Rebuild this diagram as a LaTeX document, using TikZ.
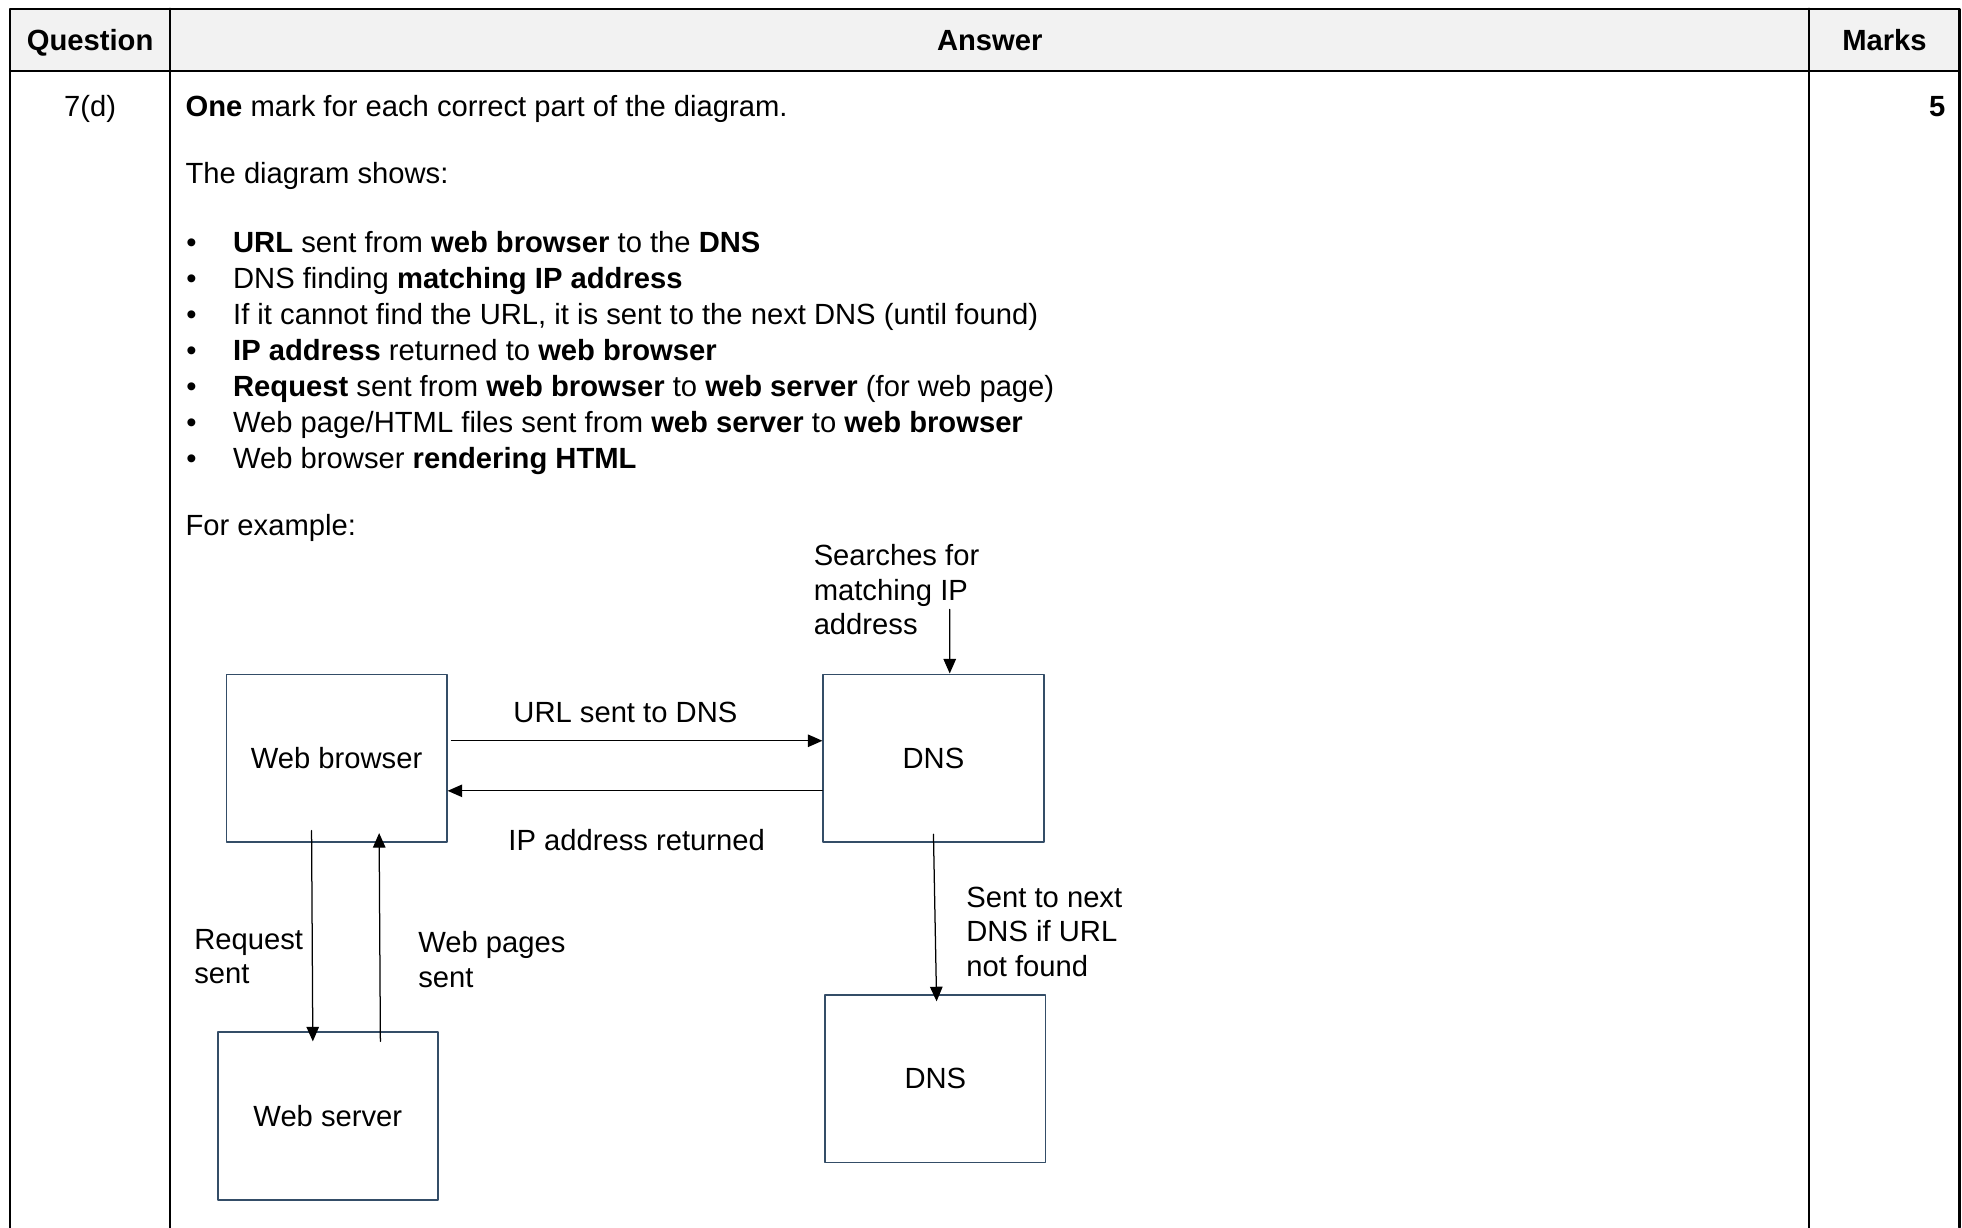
\documentclass[tikz,border=0pt]{standalone}
\usepackage{fontspec}
\setmainfont{Liberation Sans}
\usetikzlibrary{arrows.meta}
\definecolor{boxblue}{RGB}{52,77,103}
\definecolor{headgrey}{RGB}{242,242,242}
\tikzset{
  box/.style={draw=boxblue,line width=0.9pt,minimum width=105.6pt,minimum height=80.4pt,inner sep=0pt},
  txt/.style={anchor=base west},
  lbl/.style={anchor=base west,align=left},
  arr/.style={->,line width=0.6pt},
  tab/.style={line width=1pt}
}
\begin{document}
\begin{tikzpicture}[line cap=round,line join=round,>={Triangle[length=7pt,width=6pt]},x=0.6pt,y=-0.6pt,inner sep=0pt,font=\fontsize{14}{16.5}\selectfont]
\useasboundingbox (0,0) rectangle (1568,981);
% table frame
\fill[headgrey] (8,7) rectangle (1566,57);
\draw[tab] (8,981) -- (8,7) -- (1566,7) -- (1566,981);
\draw[tab] (8,57) -- (1566,57);
\draw[tab] (136,7) -- (136,981);
\draw[tab] (1446,7) -- (1446,981);
\node[anchor=base] (qhead) at (72,40) {\textbf{Question}};
\node[anchor=base] (ahead) at (791,40) {\textbf{Answer}};
\node[anchor=base] (mhead) at (1506,40) {\textbf{Marks}};
\node[anchor=base] (qnum) at (72,93) {7(d)};
\node[anchor=base east] (mark) at (1555,93) {\textbf{5}};
% answer text
\node[txt] (intro) at (148,93) {\textbf{One} mark for each correct part of the diagram.};
\node[txt] (shows) at (148,147) {The diagram shows:};
\node[anchor=base] (dot1) at (153,202) {\textbullet};
\node[anchor=base] (dot2) at (153,230.7) {\textbullet};
\node[anchor=base] (dot3) at (153,259.4) {\textbullet};
\node[anchor=base] (dot4) at (153,288.1) {\textbullet};
\node[anchor=base] (dot5) at (153,316.8) {\textbullet};
\node[anchor=base] (dot6) at (153,345.5) {\textbullet};
\node[anchor=base] (dot7) at (153,374.2) {\textbullet};
\node[txt] (item1) at (186,202) {\textbf{URL} sent from \textbf{web browser} to the \textbf{DNS}};
\node[txt] (item2) at (186,230.7) {DNS finding \textbf{matching IP address}};
\node[txt] (item3) at (186,259.4) {If it cannot find the URL, it is sent to the next DNS (until found)};
\node[txt] (item4) at (186,288.1) {\textbf{IP address} returned to \textbf{web browser}};
\node[txt] (item5) at (186,316.8) {\textbf{Request} sent from \textbf{web browser} to \textbf{web server} (for web page)};
\node[txt] (item6) at (186,345.5) {Web page/HTML files sent from \textbf{web server} to \textbf{web browser}};
\node[txt] (item7) at (186,374.2) {Web browser \textbf{rendering HTML}};
\node[txt] (forex) at (148,428) {For example:};
% diagram
\node[box] (browser) at (269,606) {Web browser};
\node[box] (dns) at (746,606) {DNS};
\node[box] (dnsnext) at (747.5,862) {DNS};
\node[box] (server) at (262,892) {Web server};
\coordinate (search) at (759,487);
\draw[arr] ([xshift=1.8pt,yshift=8.4pt]browser.east) -- ([yshift=8.4pt]dns.west);
\draw[arr] ([yshift=-15.6pt]dns.west) -- ([yshift=-15.6pt]browser.east);
\draw[arr] (search) -- ([xshift=7.8pt]dns.north);
\draw[arr] ([yshift=4.2pt]dns.south) -- ([xshift=0.6pt,yshift=-3.6pt]dnsnext.north);
\draw[arr] ([xshift=-12pt,yshift=6pt]browser.south) -- ([xshift=-7.2pt,yshift=-4.8pt]server.north);
\draw[arr] ([xshift=25.2pt,yshift=-4.8pt]server.north) -- ([xshift=20.4pt,yshift=4.8pt]browser.south);
\node[txt] (urllbl) at (410,577) {URL sent to DNS};
\node[txt] (iplbl) at (406,680) {IP address returned};
% multi-line labels sit on their last baseline
\node[lbl] (searchlbl) at (650,507) {Searches for\\matching IP\\address};
\node[lbl] (nextlbl) at (772,780) {Sent to next\\DNS if URL\\not found};
\node[lbl] (reqlbl) at (155,786) {Request\\sent};
\node[lbl] (pageslbl) at (334,789) {Web pages\\sent};
\end{tikzpicture}
\end{document}
